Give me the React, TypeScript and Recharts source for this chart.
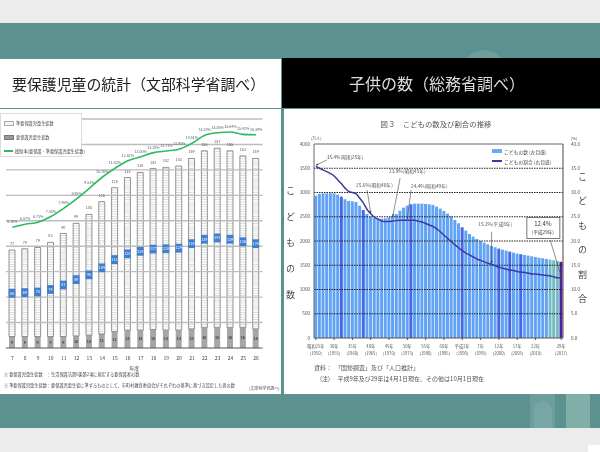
import React from "react";
import {
  Bar,
  Cell,
  ComposedChart,
  LabelList,
  Legend,
  Line,
  ReferenceDot,
  ReferenceLine,
  XAxis,
  YAxis,
} from "recharts";

const FONT = '"Noto Sans CJK JP", "Noto Sans", sans-serif';

// left chart: 年度 7-26
const schoolYears = [7, 8, 9, 10, 11, 12, 13, 14, 15, 16, 17, 18, 19, 20, 21, 22, 23, 24, 25, 26];
const totalStudents = [77, 78, 79, 83, 90, 98, 105, 115, 126, 134, 138, 141, 142, 143, 149, 155, 157, 155, 151, 149];
const protectedStudents = [9, 9, 9, 9, 9, 9.5, 10, 11, 13, 14, 14, 14.5, 14, 14, 15, 16, 16, 16, 16, 15];
const aidRate = [6.13, 6.43, 6.63, 7.2, 8.03, 8.97, 10.04, 11.15, 12.05, 12.81, 13.21, 13.62, 13.79, 13.96, 14.56, 15.36, 15.62, 15.69, 15.46, 15.42];
const aidRateLabels = ["6.10%", "6.57%", "6.73%", "7.35%", "7.96%", "8.85%", "9.51%", "10.76%", "11.82%", "12.51%", "13.00%", "13.28%", "13.71%", "13.95%", "14.51%", "15.28%", "15.58%", "15.64%", "15.42%", "15.39%"];
const studentTicks = [0, 20, 40, 60, 80, 100, 120, 140, 160, 180];

// right chart: 1950-2017
const childYears = Array.from({ length: 68 }, (_, i) => 1950 + i);
const childCount = [
  2935, 2970, 2983, 2983, 2983, 2983, 2956, 2915, 2860, 2825,
  2818, 2805, 2729, 2640, 2557, 2503, 2475, 2461, 2461, 2468,
  2489, 2516, 2557, 2626, 2688, 2729, 2757, 2770, 2770, 2770,
  2764, 2757, 2743, 2709, 2667, 2619, 2564, 2503, 2434, 2365,
  2283, 2214, 2145, 2090, 2042, 2001, 1967, 1932, 1898, 1871,
  1843, 1822, 1802, 1781, 1761, 1740, 1726, 1712, 1699, 1685,
  1671, 1657, 1644, 1630, 1616, 1603, 1588, 1571,
];
const childShare = [
  35.4, 35.0, 34.6, 34.3, 33.9, 33.4, 32.6, 31.8, 30.9, 30.2,
  30.0, 29.7, 28.8, 27.8, 26.5, 25.6, 24.9, 24.5, 24.1, 24.0,
  24.0, 24.1, 24.2, 24.3, 24.3, 24.3, 24.3, 24.3, 24.1, 23.9,
  23.6, 23.3, 23.0, 22.5, 21.9, 21.2, 20.5, 19.9, 19.2, 18.6,
  18.0, 17.5, 17.1, 16.7, 16.3, 16.0, 15.7, 15.4, 15.2, 14.9,
  14.6, 14.4, 14.2, 14.0, 13.9, 13.7, 13.6, 13.5, 13.4, 13.2,
  13.2, 13.1, 13.0, 12.9, 12.8, 12.6, 12.4, 12.4,
];
const darkBarYears = [1957, 1963, 1976, 1990, 2000, 2003, 2006];
const tealBarYears = [2014, 2015, 2016];
const countTicks = [0, 500, 1000, 1500, 2000, 2500, 3000, 3500, 4000];
const shareTicks = [0, 5, 10, 15, 20, 25, 30, 35, 40];
const axisYears = [1950, 1955, 1960, 1965, 1970, 1975, 1980, 1985, 1990, 1995, 2000, 2005, 2010, 2017];
const axisEras = ["昭和25年", "30年", "35年", "40年", "45年", "50年", "55年", "60年", "平成2年", "7年", "12年", "17年", "22年", "29年"];

const callouts = [
  { text: "35.4%(昭和25年)", year: 1958, share: 37.2 },
  { text: "25.6%(昭和40年)", year: 1966, share: 31.5 },
  { text: "23.9%(昭和45年)", year: 1975, share: 34.3 },
  { text: "24.4%(昭和49年)", year: 1981, share: 31.2 },
  { text: "15.2%(平成8年)", year: 1999, share: 23.4 },
];
const arrows = [
  { fromYear: 1953, fromShare: 36.7, toYear: 1950, toShare: 35.6 },
  { fromYear: 1964, fromShare: 30.5, toYear: 1965, toShare: 25.7 },
  { fromYear: 1973, fromShare: 32.9, toYear: 1971, toShare: 25.0 },
  { fromYear: 1976, fromShare: 30.5, toYear: 1975, toShare: 24.6 },
  { fromYear: 1998, fromShare: 21.9, toYear: 1998, toShare: 15.4 },
  { fromYear: 2014, fromShare: 20.2, toYear: 2017, toShare: 12.7 },
];

const studentRows = schoolYears.map((year, i) => ({
  year,
  total: totalStudents[i],
  lower: protectedStudents[i],
  upper: totalStudents[i] - protectedStudents[i],
  rate: aidRate[i],
  rateLabel: aidRateLabels[i],
}));
const childRows = childYears.map((year, i) => ({ year, count: childCount[i], share: childShare[i] }));

const abs = (left: number, top: number, width: number, height: number, extra: React.CSSProperties = {}): React.CSSProperties => ({
  position: "absolute",
  left,
  top,
  width,
  height,
  ...extra,
});

function StudentTick({ x, y, payload }: any) {
  // 一番下のラベルだけ原図では少し上にある
  const shift = payload.value === 0 ? -6 : 0;
  return (
    <text x={x + 3} y={y + shift} dy={1.5} fontSize={4} fill="#555" fontFamily={FONT}>
      {payload.value}万人
    </text>
  );
}

function EraTick({ x, y, payload }: any) {
  const idx = axisYears.indexOf(payload.value);
  return (
    <text textAnchor="middle" fontSize={4.2} fill="#555" fontFamily={FONT}>
      <tspan x={x} y={y + 6}>{axisEras[idx]}</tspan>
      <tspan x={x} y={y + 13}>({payload.value})</tspan>
    </text>
  );
}

function BlueBadge({ x, y, width, height, value }: any) {
  const cx = x + width / 2;
  const cy = y + height / 2;
  return (
    <g>
      <rect x={cx - 3.4} y={cy - 4.4} width={6.8} height={8.8} fill="#3f7fd0" />
      <text x={cx} y={cy + 1.3} textAnchor="middle" fontSize={3.6} fill="#fff" fontFamily={FONT}>
        {Math.round(value)}
      </text>
    </g>
  );
}

function StudentLegend() {
  const row: React.CSSProperties = { display: "flex", alignItems: "center", gap: 2, height: 14, whiteSpace: "nowrap" };
  const swatch = (background: string, border: string): React.CSSProperties => ({ width: 8, height: 3, flexShrink: 0, background, border: `1px solid ${border}` });
  return (
    <div style={{ background: "#fff", border: "1px solid #ddd", padding: "2px 3px", fontFamily: FONT, fontSize: 4.2, color: "#444", height: 38, boxSizing: "content-box" }}>
      <div style={row}><span style={swatch("#f2f2f2", "#aaa")} />準要保護児童生徒数</div>
      <div style={row}><span style={swatch("#999", "#777")} />要保護児童生徒数</div>
      <div style={row}><span style={{ width: 9, height: 2, flexShrink: 0, background: "#2dbb60" }} />援助率(要保護・準要保護児童生徒数)</div>
    </div>
  );
}

function ChildLegend() {
  const row: React.CSSProperties = { display: "flex", alignItems: "center", gap: 2, height: 10 };
  return (
    <div style={{ fontFamily: FONT, fontSize: 4.8, color: "#444" }}>
      <div style={row}><span style={{ width: 10, height: 4, background: "#6aaaf5" }} />こどもの数 (左目盛)</div>
      <div style={row}><span style={{ width: 10, height: 1.5, background: "#3c3a9e" }} />こどもの割合 (右目盛)</div>
    </div>
  );
}

function LatestBox({ cx, cy }: any) {
  return (
    <g fontFamily={FONT} textAnchor="middle">
      <rect x={cx - 16} y={cy - 10} width={33} height={21} fill="#fff" stroke="#555" strokeWidth={0.8} />
      <text x={cx} y={cy - 1} fontSize={6} fill="#333">12.4%</text>
      <text x={cx} y={cy + 7} fontSize={4.6} fill="#333">(平成29年)</text>
    </g>
  );
}

function StudentChart() {
  return (
    <ComposedChart width={281} height={286} data={studentRows} margin={{ top: 11, right: 0, bottom: 26, left: 6 }}>
      <XAxis
        dataKey="year"
        interval={0}
        height={20}
        tickLine={false}
        axisLine={{ stroke: "#555", strokeWidth: 1 }}
        tick={{ fontSize: 5, fill: "#444", fontFamily: FONT }}
        label={{ value: "年度", position: "insideBottom", offset: -2, fontSize: 5, fill: "#333", fontFamily: FONT }}
      />
      <YAxis yAxisId="count" width={0} domain={[0, 180]} ticks={studentTicks} tick={false} tickLine={false} axisLine={{ stroke: "#777", strokeWidth: 1 }} />
      <YAxis yAxisId="countRight" orientation="right" width={18.5} domain={[0, 180]} ticks={studentTicks} axisLine={false} tickLine={false} tick={<StudentTick />} />
      <YAxis yAxisId="rate" hide domain={[-6, 17]} />
      {studentTicks.slice(1).map((t) => (
        <ReferenceLine key={t} yAxisId="count" y={t} stroke="#bdbdbd" strokeWidth={1.4} />
      ))}
      <Bar yAxisId="count" dataKey="lower" stackId="s" barSize={6} fill="#a6a6a6" isAnimationActive={false}>
        <LabelList dataKey="lower" position="center" fontSize={3.8} fill="#111" formatter={(v: any) => Math.round(v)} />
      </Bar>
      <Bar yAxisId="count" dataKey="upper" stackId="s" barSize={6} fill="url(#stripes)" stroke="#7a7a7a" strokeWidth={0.8} isAnimationActive={false}>
        <LabelList dataKey="upper" content={<BlueBadge />} />
        <LabelList dataKey="total" position="top" offset={5} fontSize={3.8} fill="#665544" />
      </Bar>
      <Line yAxisId="rate" type="monotone" dataKey="rate" stroke="#2dbb60" strokeWidth={1.6} dot={false} isAnimationActive={false}>
        <LabelList dataKey="rateLabel" position="top" offset={4} fontSize={3.6} fill="#556070" />
      </Line>
      <Legend
        content={<StudentLegend />}
        layout="vertical"
        align="center"
        verticalAlign="middle"
        wrapperStyle={{ left: 0, top: 5, width: 82, height: 44 }}
      />
    </ComposedChart>
  );
}

function ChildChart() {
  return (
    <ComposedChart width={316} height={284} data={childRows} barCategoryGap="5%" margin={{ top: 34, right: 0, bottom: 36, left: 0 }}>
      <XAxis
        dataKey="year"
        ticks={axisYears}
        interval={0}
        height={20}
        tickSize={2}
        axisLine={{ stroke: "#555" }}
        tickLine={{ stroke: "#555" }}
        tick={<EraTick />}
      />
      <YAxis yAxisId="count" width={30} domain={[0, 4000]} ticks={countTicks} tickSize={2} axisLine={{ stroke: "#666" }} tickLine={false} tick={{ fontSize: 4.6, fill: "#555", fontFamily: FONT }} />
      <YAxis yAxisId="share" orientation="right" width={37} domain={[0, 40]} ticks={shareTicks} tickFormatter={(v: number) => v.toFixed(1)} axisLine={{ stroke: "#666", strokeWidth: 1.2 }} tickLine={false} tick={{ fontSize: 4.6, fill: "#555", fontFamily: FONT }} />
      {countTicks.slice(1, -1).map((t) => (
        <ReferenceLine key={t} yAxisId="count" y={t} stroke="#222" strokeDasharray="1.5 1" strokeWidth={1} />
      ))}
      <ReferenceLine yAxisId="count" y={4000} stroke="#666" />
      <Bar yAxisId="count" dataKey="count" fill="#62a4f3" isAnimationActive={false}>
        {childYears.map((year) => (
          <Cell
            key={year}
            fill={year === 2017 ? "#4f1f9e" : darkBarYears.includes(year) ? "#4468e8" : tealBarYears.includes(year) ? "#74bcc4" : "#62a4f3"}
          />
        ))}
      </Bar>
      <Line yAxisId="share" type="monotone" dataKey="share" stroke="#3c3a9e" strokeWidth={1.5} dot={false} isAnimationActive={false} />
      {arrows.map((a) => (
        <ReferenceLine
          key={a.fromYear}
          yAxisId="share"
          segment={[{ x: a.fromYear, y: a.fromShare }, { x: a.toYear, y: a.toShare }]}
          stroke="#444"
          strokeWidth={0.6}
          markerEnd="url(#arrowHead)"
        />
      ))}
      {callouts.map((c) => (
        <ReferenceDot
          key={c.text}
          yAxisId="share"
          x={c.year}
          y={c.share}
          r={0}
          stroke="none"
          label={{ value: c.text, position: "center", fontSize: 4.8, fill: "#555", fontFamily: FONT }}
        />
      ))}
      <ReferenceDot yAxisId="share" x={2012} y={22.8} r={1} shape={<LatestBox />} />
      <Legend
        content={<ChildLegend />}
        layout="vertical"
        align="center"
        verticalAlign="middle"
        wrapperStyle={{ left: 208, top: 36, width: 80, height: 22 }}
      />
    </ComposedChart>
  );
}

export default function App() {
  const tategaki = (left: number, top: number, gap: number, text: string) => (
    <div style={abs(left, top, 12, 160, { writingMode: "vertical-rl", fontSize: 9, letterSpacing: gap, color: "#444", fontFamily: FONT })}>{text}</div>
  );
  return (
    <div style={abs(0, 0, 600, 452, { background: "#ececec", overflow: "hidden", fontFamily: FONT, filter: "blur(0.4px)" })}>
      <svg width={0} height={0} style={{ position: "absolute" }}>
        <defs>
          <pattern id="stripes" width={4} height={2.4} patternUnits="userSpaceOnUse">
            <rect width={4} height={2.4} fill="#fdfdfd" />
            <rect width={4} height={0.8} fill="#d8d8d8" />
          </pattern>
          <marker id="arrowHead" markerWidth={5} markerHeight={5} refX={4} refY={2} orient="auto">
            <path d="M0,0 L4,2 L0,4 Z" fill="#444" />
          </marker>
        </defs>
      </svg>

      <div style={abs(0, 23, 600, 405, { background: "#5b918f" })} />
      <div style={abs(462, 50, 44, 30, { background: "#6d9e9b", borderRadius: "22px 22px 0 0" })} />
      <div style={abs(530, 394, 25, 34, { background: "#6d9e9b" })} />
      <div style={abs(534, 401, 18, 27, { background: "#78a6a3", borderRadius: "9px 9px 0 0" })} />
      <div style={abs(566, 394, 24, 34, { background: "#82aeaa" })} />
      <div style={abs(588, 445, 14, 10, { background: "#fff", borderRadius: 2 })} />

      <div style={abs(0, 59, 281, 49, { background: "#fff", display: "flex", alignItems: "center", paddingLeft: 12, boxSizing: "border-box", fontSize: 14.9, color: "#222", whiteSpace: "nowrap" })}>
        要保護児童の統計（文部科学省調べ）
      </div>
      <div style={abs(282, 58, 318, 50, { background: "#000", display: "flex", alignItems: "center", justifyContent: "center", fontSize: 16, color: "#ddd", whiteSpace: "nowrap", paddingRight: 8, boxSizing: "border-box" })}>
        子供の数（総務省調べ）
      </div>

      <div style={abs(0, 109, 281, 285, { background: "#fff" })} />
      <div style={abs(284, 109, 316, 285, { background: "#fff" })} />

      <div style={abs(0, 108, 281, 286, {})}>
        <StudentChart />
      </div>
      <div style={abs(4, 371, 200, 7, { fontSize: 4.2, color: "#444", whiteSpace: "nowrap", lineHeight: "7px" })}>
        ※ 要保護児童生徒数　：生活保護法第6条第2項に規定する要保護者の数
      </div>
      <div style={abs(4, 382, 240, 7, { fontSize: 4.2, color: "#444", whiteSpace: "nowrap", lineHeight: "7px" })}>
        ※ 準要保護児童生徒数：要保護児童生徒に準ずるものとして、市町村教育委員会がそれぞれの基準に基づき認定した者の数
      </div>
      <div style={abs(249, 385, 30, 6, { fontSize: 4, color: "#555", whiteSpace: "nowrap", lineHeight: "6px" })}>(文部科学省調べ)</div>

      <div style={abs(284, 110, 316, 284, {})}>
        <ChildChart />
      </div>
      <div style={abs(290, 119, 292, 10, { textAlign: "center", fontSize: 7.4, color: "#555", lineHeight: "10px", paddingRight: 0 })}>
        図３　こどもの数及び割合の推移
      </div>
      <div style={abs(311, 135, 16, 6, { fontSize: 4, color: "#555", lineHeight: "6px" })}>(万人)</div>
      <div style={abs(571, 135, 12, 6, { fontSize: 4, color: "#555", lineHeight: "6px" })}>(%)</div>
      {tategaki(285, 186, 17, "こどもの数")}
      {tategaki(577, 172, 15.4, "こどもの割合")}
      <div style={abs(314, 364, 200, 8, { fontSize: 6, color: "#555", whiteSpace: "nowrap", lineHeight: "8px" })}>
        資料：　「国勢調査」及び「人口推計」
      </div>
      <div style={abs(320, 375, 240, 8, { fontSize: 6, color: "#555", whiteSpace: "nowrap", lineHeight: "8px" })}>
        (注)　 平成9年及び29年は4月1日現在、その他は10月1日現在
      </div>
    </div>
  );
}
